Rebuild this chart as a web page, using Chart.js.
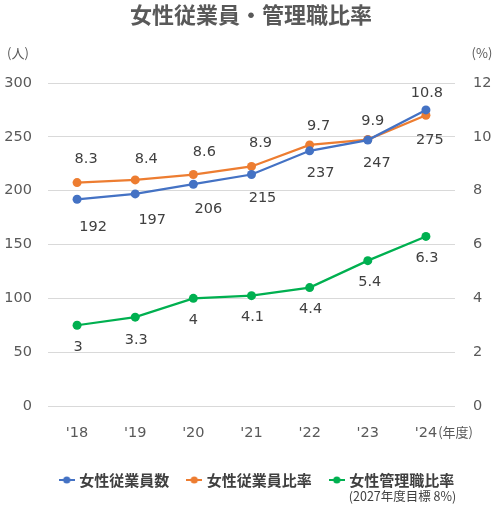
<!DOCTYPE html>
<html><head><meta charset="utf-8">
<script src="https://cdn.jsdelivr.net/npm/chart.js@4.4.1/dist/chart.umd.min.js"></script>
<style>html,body{margin:0;padding:0;background:#fff;}#wrap{width:496px;height:510px;position:relative;}</style>
</head><body><div id="wrap"><canvas id="c" width="496" height="510"></canvas></div>
<script>
// ---- data ----
const categories = ["'18", "'19", "'20", "'21", "'22", "'23", "'24"];
const femaleEmployees = [192, 197, 206, 215, 237, 247, 275];
const femaleEmployeeRatio = [8.3, 8.4, 8.6, 8.9, 9.7, 9.9, 10.8];
const femaleManagerRatio = [3, 3.3, 4, 4.1, 4.4, 5.4, 6.3];
const seriesNames = ['女性従業員数', '女性従業員比率', '女性管理職比率'];
const leftTicks = [0, 50, 100, 150, 200, 250, 300];
const rightTicks = [0, 2, 4, 6, 8, 10, 12];
const titleText = '女性従業員・管理職比率';
const leftUnit = '(人)';
const rightUnit = '(%)';
const xUnit = '(年度)';
const noteText = '(2027年度目標 8%)';

// ---- styles (label placement offsets, px) ----
const COLORS = ['#4472C4', '#ED7D31', '#00B050'];
const NUM_FONT = 'DejaVu Sans';
const JP_FONT = '"Noto Sans CJK JP", "Noto Sans", sans-serif';
const LABEL_DX = [[16, 17, 15, 11, 11, 9, 4], [9, 11, 11, 9, 9, 5, 1], [1, 1, 0, 1, 1, 2, 1]];
const LABEL_DY = [[28, 26, 25, 24, 22, 23, 30], [-23, -21, -22, -23, -19, -18, -22], [22, 23, 22, 22, 22, 22, 22]];

function legendMarker(color) {
  const c = document.createElement('canvas');
  c.width = 16; c.height = 10;
  const g = c.getContext('2d');
  g.strokeStyle = color; g.lineWidth = 2;
  g.beginPath(); g.moveTo(0, 5); g.lineTo(16, 5); g.stroke();
  g.fillStyle = color;
  g.beginPath(); g.arc(8, 5, 3.6, 0, Math.PI * 2); g.fill();
  return c;
}

const valueLabels = {
  id: 'valueLabels',
  afterDatasetsDraw(chart) {
    const ctx = chart.ctx;
    ctx.save();
    ctx.font = '14.5px "' + NUM_FONT + '"';
    ctx.fillStyle = '#404040';
    ctx.textAlign = 'center';
    ctx.textBaseline = 'middle';
    chart.data.datasets.forEach((ds, i) => {
      const meta = chart.getDatasetMeta(i);
      meta.data.forEach((pt, j) => {
        ctx.fillText(String(ds.data[j]), pt.x + LABEL_DX[i][j], pt.y + LABEL_DY[i][j]);
      });
    });
    ctx.restore();
  }
};

const shiftBoxes = {
  id: 'shiftBoxes',
  afterLayout(chart) {
    if (chart.legend) { chart.legend.left += 10; chart.legend.right += 10; }
    if (chart.titleBlock) { chart.titleBlock.left += 3; chart.titleBlock.right += 3; }
  }
};

const extras = {
  id: 'extras',
  afterDraw(chart) {
    const ctx = chart.ctx;
    ctx.save();
    ctx.fillStyle = '#595959';
    ctx.textBaseline = 'middle';
    ctx.font = '13px ' + JP_FONT;
    ctx.textAlign = 'center';
    ctx.fillText(leftUnit, 18, 53);
    ctx.fillText(rightUnit, 482, 53);
    const xs = chart.scales.x;
    const lastX = xs.getPixelForTick(categories.length - 1);
    ctx.font = '14.5px "' + NUM_FONT + '"';
    const w = ctx.measureText(categories[categories.length - 1]).width;
    ctx.font = '13px ' + JP_FONT;
    ctx.textAlign = 'left';
    ctx.fillText(xUnit, lastX + w / 2 + 1, 432);
    const lg = chart.legend;
    if (lg && lg.legendHitBoxes && lg.legendHitBoxes[2]) {
      const hb = lg.legendHitBoxes[2];
      ctx.font = '12.5px ' + JP_FONT;
      ctx.fillStyle = '#404040';
      ctx.textAlign = 'right';
      ctx.fillText(noteText, hb.left + hb.width + 2, 496);
    }
    ctx.restore();
  }
};

new Chart(document.getElementById('c'), {
  type: 'line',
  data: {
    labels: categories,
    datasets: [
      { label: seriesNames[0], data: femaleEmployees, yAxisID: 'y' },
      { label: seriesNames[1], data: femaleEmployeeRatio, yAxisID: 'y1' },
      { label: seriesNames[2], data: femaleManagerRatio, yAxisID: 'y1' }
    ].map((d, i) => Object.assign(d, {
      borderColor: COLORS[i], backgroundColor: COLORS[i],
      borderWidth: 2.25, pointRadius: 4.5, pointHoverRadius: 4.5,
      pointBorderWidth: 0, tension: 0, fill: false
    }))
  },
  options: {
    responsive: false,
    animation: false,
    layout: { padding: { left: 0, right: 0, top: 0, bottom: 12.5 } },
    scales: {
      x: {
        offset: true,
        grid: { display: false, drawTicks: false },
        border: { display: false },
        ticks: { color: '#595959', font: { family: NUM_FONT, size: 14.5 }, padding: 19, maxRotation: 0 },
        afterFit(s) { s.height = 46.5; }
      },
      y: {
        position: 'left', min: 0, max: 300,
        afterBuildTicks(s) { s.ticks = leftTicks.map(v => ({ value: v })); },
        grid: { color: '#D9D9D9', lineWidth: 1, drawTicks: false },
        border: { display: false },
        ticks: { color: '#595959', font: { family: NUM_FONT, size: 14.5 }, padding: 16 },
        afterFit(s) { s.width = 48; }
      },
      y1: {
        position: 'right', min: 0, max: 12,
        afterBuildTicks(s) { s.ticks = rightTicks.map(v => ({ value: v })); },
        grid: { display: false, drawTicks: false },
        border: { display: false },
        ticks: { color: '#595959', font: { family: NUM_FONT, size: 14.5 }, padding: 18 },
        afterFit(s) { s.width = 41; }
      }
    },
    plugins: {
      title: {
        display: true, text: titleText, color: '#595959',
        font: { family: JP_FONT, size: 22, weight: 'bold' },
        padding: { top: 1.8, bottom: 54.8 }
      },
      legend: {
        display: true, position: 'bottom',
        labels: {
          usePointStyle: true, pointStyleWidth: 10, padding: 20,
          color: '#404040', font: { family: JP_FONT, size: 15, weight: 'bold' },
          generateLabels(chart) {
            return chart.data.datasets.map((ds, i) => ({
              text: ds.label, fillStyle: COLORS[i], strokeStyle: COLORS[i],
              pointStyle: legendMarker(COLORS[i]), fontColor: '#404040',
              datasetIndex: i, hidden: false, lineWidth: 0
            }));
          }
        }
      },
      tooltip: { enabled: false }
    }
  },
  plugins: [shiftBoxes, valueLabels, extras]
});
</script></body></html>
